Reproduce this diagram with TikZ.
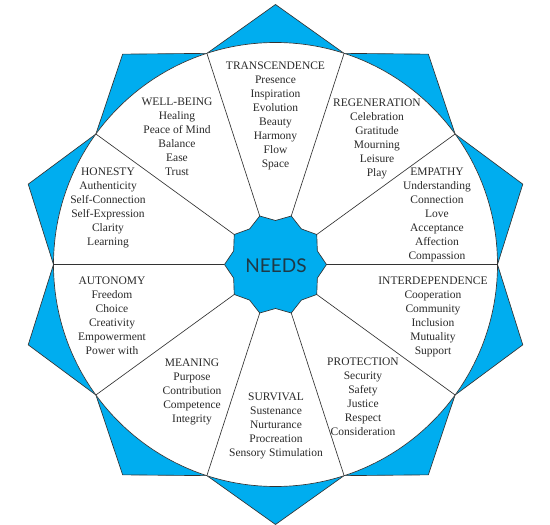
\documentclass[tikz,border=0pt]{standalone}
\usepackage{fontspec}
\setmainfont{Liberation Serif}
\newfontfamily\needsfont{Lato}
\definecolor{textcol}{HTML}{2A2A2A}
\definecolor{linecol}{HTML}{333333}
\definecolor{bluecol}{HTML}{00ADEF}
\definecolor{needscol}{HTML}{1E3946}

\begin{document}
\begin{tikzpicture}[x=1pt,y=1pt,line width=0.65pt]
\useasboundingbox (-275.5,-260.5) rectangle (274.5,264.5);
% outer star and the white ring
\filldraw[fill=bluecol,draw=linecol] (0:222) \foreach \a in {0,36,...,324}{ -- (\a:222) -- (\a+18:260)} -- cycle;
\filldraw[fill=white,draw=linecol] (0,0) circle (222);
% spokes
\foreach \a [count=\i] in {0,36,...,324}{
	\coordinate (j\i) at (\a:222);
	\coordinate (s\i) at (\a:51);
	\draw[linecol] (s\i) -- (j\i);
	}
% hub
\filldraw[fill=bluecol,draw=linecol] (0:51) \foreach \a in {0,36,...,324}{ -- (\a:51) -- (\a+18:44)} -- cycle;
\node[font=\needsfont\fontsize{19}{19}\selectfont,text=needscol] (needs) at (0.5,-1.5) {NEEDS};
% needs groups
\foreach \x/\y/\name/\items [count=\i] in {
	0/202.5/TRANSCENDENCE/{Presence\\Inspiration\\Evolution\\Beauty\\Harmony\\Flow\\Space},
	-98.5/166.5/WELL-BEING/{Healing\\Peace of Mind\\Balance\\Ease\\Trust},
	-167.5/96.5/HONESTY/{Authenticity\\Self-Connection\\Self-Expression\\Clarity\\Learning},
	101.5/165.5/REGENERATION/{Celebration\\Gratitude\\Mourning\\Leisure\\Play},
	161.5/96.5/EMPATHY/{Understanding\\Connection\\Love\\Acceptance\\Affection\\Compassion},
	-163.5/-12.5/AUTONOMY/{Freedom\\Choice\\Creativity\\Empowerment\\Power with},
	-83.5/-94.5/MEANING/{Purpose\\Contribution\\Competence\\Integrity},
	0.5/-128.5/SURVIVAL/{Sustenance\\Nurturance\\Procreation\\Sensory Stimulation},
	87.5/-93.5/PROTECTION/{Security\\Safety\\Justice\\Respect\\Consideration},
	157.5/-12.5/INTERDEPENDENCE/{Cooperation\\Community\\Inclusion\\Mutuality\\Support}%
	}{
	\node[align=center,anchor=north,inner sep=0pt,text=textcol,font=\fontsize{11.5}{14}\selectfont] (group\i) at (\x,\y) {\name\\\items};
	}
\end{tikzpicture}
\end{document}
